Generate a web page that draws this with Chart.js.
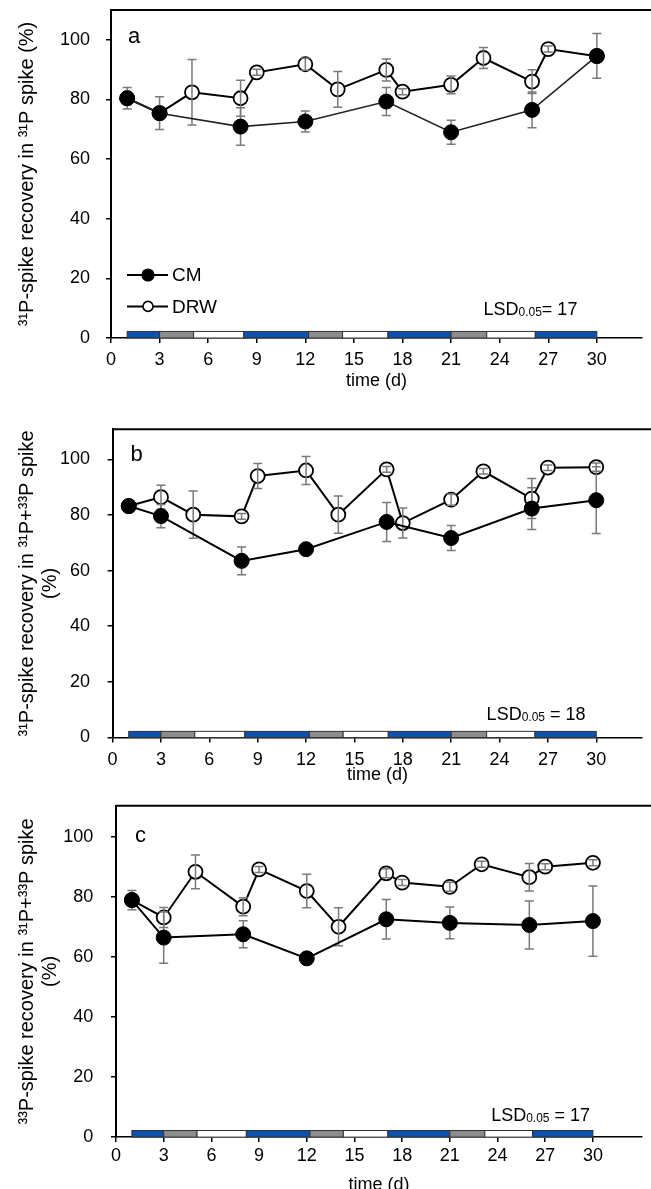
<!DOCTYPE html>
<html>
<head>
<meta charset="utf-8">
<script src="https://cdn.jsdelivr.net/npm/chart.js@4.4.1/dist/chart.umd.min.js"></script>
<style>
  html, body { margin: 0; padding: 0; background: #fff; overflow: hidden; }
  body { width: 651px; height: 1189px; position: relative; }
  canvas { position: absolute; left: 0; }
</style>
</head>
<body>
<canvas id="chartA" width="651" height="392" style="top:0px"></canvas>
<canvas id="chartB" width="651" height="386" style="top:400px"></canvas>
<canvas id="chartC" width="651" height="406" style="top:790px"></canvas>
<script>
// jours de prélèvement
const daysCM = [1, 3, 8, 12, 17, 21, 26, 30];
const daysDRW = [1, 3, 5, 8, 9, 12, 14, 17, 18, 21, 23, 26, 27, 30];

// panel a : 31P-spike recovery in 31P spike
const cmA = [80.4, 75.4, 70.9, 72.6, 79.3, 69.0, 76.5, 94.6];
const cmAErr = [3.6, 5.5, 6.3, 3.5, 4.7, 4.0, 6.0, 7.5];
const drwA = [80.4, 75.4, 82.4, 80.4, 89.1, 91.8, 83.4, 89.9, 82.6, 84.9, 93.9, 86.0, 96.9, 94.5];
const drwAErr = [0, 0, 11, 6, 1, 2, 6, 3.7, 1, 3, 3.5, 4, 1, 0];

// panel b : 31P-spike recovery in 31P+33P spike
const cmB = [83.2, 79.6, 63.5, 67.7, 77.5, 71.7, 82.3, 85.3];
const cmBErr = [1.5, 4.2, 5, 1.5, 7, 4.5, 7.5, 12];
const drwB = [83.2, 86.4, 80.1, 79.5, 94.0, 96.0, 80.1, 96.4, 77.1, 85.5, 95.7, 85.9, 97.0, 97.2];
const drwBErr = [0, 4.3, 8.5, 1, 4.5, 5, 6.7, 1, 5.4, 2, 1, 7.2, 1, 1.5];

// panel c : 33P-spike recovery in 31P+33P spike
const cmC = [78.9, 66.4, 67.5, 59.5, 72.5, 71.3, 70.6, 71.9];
const cmCErr = [3.2, 8.5, 4.5, 1, 6.6, 5.3, 8, 11.7];
const drwC = [78.9, 73.1, 88.3, 76.7, 89.1, 81.9, 70.0, 87.8, 84.7, 83.3, 90.8, 86.5, 90.0, 91.3];
const drwCErr = [0, 3.3, 5.6, 3, 1, 5.6, 6.3, 1.5, 1, 1.5, 1, 4.6, 1, 1];

// graduations
const xTicks = [0, 3, 6, 9, 12, 15, 18, 21, 24, 27, 30];
const yTicks = [0, 20, 40, 60, 80, 100];

// bande des phases en bas du graphe
const phaseEdges = [1, 3, 5.1, 8.2, 12.2, 14.3, 17.1, 21, 23.2, 26.2, 30];
const phaseColors = ['#0a52ae', '#8c8c8c', '#ffffff', '#0a52ae', '#8c8c8c', '#ffffff', '#0a52ae', '#8c8c8c', '#ffffff', '#0a52ae'];
const stripTop = 2.2;

const FONT = 'Liberation Sans, Arial, sans-serif';

function pts(days, vals) {
  return days.map((d, i) => ({x: d, y: vals[i]}));
}

// barres d'erreur
function drawErr(chart, idx) {
  const ds = chart.data.datasets[idx];
  const meta = chart.getDatasetMeta(idx);
  const {ctx, scales: {y}} = chart;
  ctx.save();
  ctx.strokeStyle = '#7a7a7a';
  ctx.lineWidth = 1.5;
  meta.data.forEach((p, i) => {
    const e = ds.errors[i];
    if (!e) return;
    const v = ds.data[i].y;
    const yt = y.getPixelForValue(v + e), yb = y.getPixelForValue(v - e);
    ctx.beginPath();
    ctx.moveTo(p.x, yt); ctx.lineTo(p.x, yb);
    ctx.moveTo(p.x - 4.5, yt); ctx.lineTo(p.x + 4.5, yt);
    ctx.moveTo(p.x - 4.5, yb); ctx.lineTo(p.x + 4.5, yb);
    ctx.stroke();
  });
  ctx.restore();
}

const decor = {
  id: 'decor',
  beforeDatasetsDraw(chart) {
    const {ctx, scales: {x, y}} = chart;
    const yb = y.getPixelForValue(0), yt = y.getPixelForValue(stripTop);
    ctx.save();
    ctx.strokeStyle = '#333';
    ctx.lineWidth = 1;
    for (let i = 0; i < phaseColors.length; i++) {
      const x0 = x.getPixelForValue(phaseEdges[i]);
      const x1 = x.getPixelForValue(phaseEdges[i + 1]);
      ctx.fillStyle = phaseColors[i];
      ctx.fillRect(x0, yt, x1 - x0, yb - yt);
      ctx.strokeRect(x0, yt, x1 - x0, yb - yt);
    }
    ctx.restore();
  },
  beforeDatasetDraw(chart, args) {
    if (args.index === 0) drawErr(chart, 0);
  },
  afterDatasetDraw(chart, args) {
    if (args.index === 1) drawErr(chart, 1);
  },
  afterDraw(chart, args, opts) {
    const {ctx, chartArea: ca, scales: {x, y}} = chart;
    ctx.save();
    // cadre du haut
    ctx.strokeStyle = '#000';
    ctx.lineWidth = 2;
    ctx.beginPath();
    ctx.moveTo(ca.left, ca.top);
    ctx.lineTo(chart.width, ca.top);
    ctx.stroke();
    // lettre du panneau
    ctx.fillStyle = '#000';
    ctx.font = '22px ' + FONT;
    ctx.textBaseline = 'alphabetic';
    ctx.fillText(opts.letter, ca.left + opts.letterDx, ca.top + opts.letterDy);
    // LSD
    let lx = x.getPixelForValue(opts.lsdX);
    const ly = y.getPixelForValue(opts.lsdY);
    ctx.font = '18px ' + FONT;
    ctx.fillText('LSD', lx, ly);
    lx += ctx.measureText('LSD').width;
    ctx.font = '12px ' + FONT;
    ctx.fillText('0.05', lx, ly + 1);
    lx += ctx.measureText('0.05').width;
    ctx.font = '18px ' + FONT;
    ctx.fillText(opts.lsdText, lx, ly);
    // légende
    if (opts.legend) {
      const rows = [ca.bottom - 63, ca.bottom - 31.6];
      chart.data.datasets.forEach((ds, i) => {
        const yy = rows[i];
        ctx.strokeStyle = '#000';
        ctx.lineWidth = 2;
        ctx.beginPath();
        ctx.moveTo(ca.left + 16, yy); ctx.lineTo(ca.left + 57, yy);
        ctx.stroke();
        ctx.beginPath();
        ctx.arc(ca.left + 37, yy, i === 0 ? 5.8 : 5, 0, Math.PI * 2);
        ctx.fillStyle = ds.pointBackgroundColor;
        ctx.fill();
        ctx.lineWidth = 1.6;
        ctx.stroke();
        ctx.fillStyle = '#000';
        ctx.font = '19px ' + FONT;
        ctx.textBaseline = 'middle';
        ctx.fillText(ds.label, ca.left + 61, yy + 1);
      });
    }
    ctx.restore();
  }
};

function makePanel(id, p) {
  return new Chart(document.getElementById(id), {
    type: 'line',
    data: {
      datasets: [{
        label: 'CM',
        data: pts(daysCM, p.cm),
        errors: p.cmErr,
        borderColor: p.cmLine,
        borderWidth: p.cmWidth,
        pointBackgroundColor: '#000',
        pointBorderColor: '#000',
        pointRadius: 7.5,
        pointBorderWidth: 1
      }, {
        label: 'DRW',
        data: pts(daysDRW, p.drw),
        errors: p.drwErr,
        borderColor: '#000',
        borderWidth: 2,
        pointBackgroundColor: '#fff',
        pointBorderColor: '#000',
        pointRadius: 7,
        pointBorderWidth: 1.8
      }]
    },
    options: {
      responsive: false,
      animation: false,
      layout: {padding: {top: p.padTop, bottom: 0, left: 0, right: 0}},
      plugins: {
        legend: {display: false},
        tooltip: {enabled: false},
        decor: {letter: p.letter, letterDx: p.letterDx, letterDy: p.letterDy,
                lsdX: p.lsdX, lsdY: p.lsdY, lsdText: p.lsdText, legend: p.legend}
      },
      scales: {
        x: {
          type: 'linear', min: 0, max: p.xMax,
          afterBuildTicks: s => { s.ticks = xTicks.map(v => ({value: v})); },
          afterFit: s => { s.height = p.xAxisH; s.paddingLeft = 0; s.paddingRight = 0; },
          grid: {drawOnChartArea: false, tickLength: 5, color: '#000', lineWidth: 1.5},
          border: {color: '#000', width: 1.5},
          ticks: {font: {family: FONT, size: 18}, color: '#000', padding: p.tickPad, maxRotation: 0, autoSkip: false},
          title: {display: true, text: 'time (d)', color: '#000', font: {family: FONT, size: 18}, padding: {top: 0, bottom: 0}}
        },
        y: {
          min: 0, max: p.yMax,
          afterBuildTicks: s => { s.ticks = yTicks.map(v => ({value: v})); },
          afterFit: s => { s.width = p.yAxisW; s.paddingTop = 0; s.paddingBottom = 0; },
          grid: {drawOnChartArea: false, tickLength: 5, color: '#000', lineWidth: 1.5},
          border: {color: '#000', width: 2},
          ticks: {font: {family: FONT, size: 18}, color: '#000', padding: p.yTickPad},
          title: {display: true, text: p.yTitle, color: '#000', font: {family: FONT, size: 20, lineHeight: 1.15}, padding: {top: p.yTitlePad, bottom: 0}}
        }
      }
    },
    plugins: [decor]
  });
}

makePanel('chartA', {
  cm: cmA, cmErr: cmAErr, drw: drwA, drwErr: drwAErr, cmLine: '#222', cmWidth: 1.6,
  padTop: 10, xAxisH: 54, tickPad: 6, yAxisW: 111, yTickPad: 16, xMax: 32.8, yMax: 110,
  yTitle: '³¹P-spike recovery in ³¹P spike (%)', yTitlePad: 16,
  letter: 'a', letterDx: 17, letterDy: 32.7,
  lsdX: 23.0, lsdY: 7.8, lsdText: '= 17', legend: true
});

makePanel('chartB', {
  cm: cmB, cmErr: cmBErr, drw: drwB, drwErr: drwBErr, cmLine: '#000', cmWidth: 2,
  padTop: 29.3, xAxisH: 48.5, tickPad: 6.5, yAxisW: 112.6, yTickPad: 17.5, xMax: 32.85, yMax: 110.8,
  yTitle: ['³¹P-spike recovery in ³¹P+³³P spike', '(%)'], yTitlePad: 15.5,
  letter: 'b', letterDx: 18, letterDy: 31.7,
  lsdX: 23.2, lsdY: 6.3, lsdText: ' = 18', legend: false
});

makePanel('chartC', {
  cm: cmC, cmErr: cmCErr, drw: drwC, drwErr: drwCErr, cmLine: '#000', cmWidth: 2,
  padTop: 15.7, xAxisH: 58.9, tickPad: 2.8, yAxisW: 116, yTickPad: 17.7, xMax: 33.1, yMax: 110.3,
  yTitle: ['³³P-spike recovery in ³¹P+³³P spike', '(%)'], yTitlePad: 15.5,
  letter: 'c', letterDx: 19, letterDy: 36,
  lsdX: 23.6, lsdY: 5.2, lsdText: ' = 17', legend: false
});
</script>
</body>
</html>
